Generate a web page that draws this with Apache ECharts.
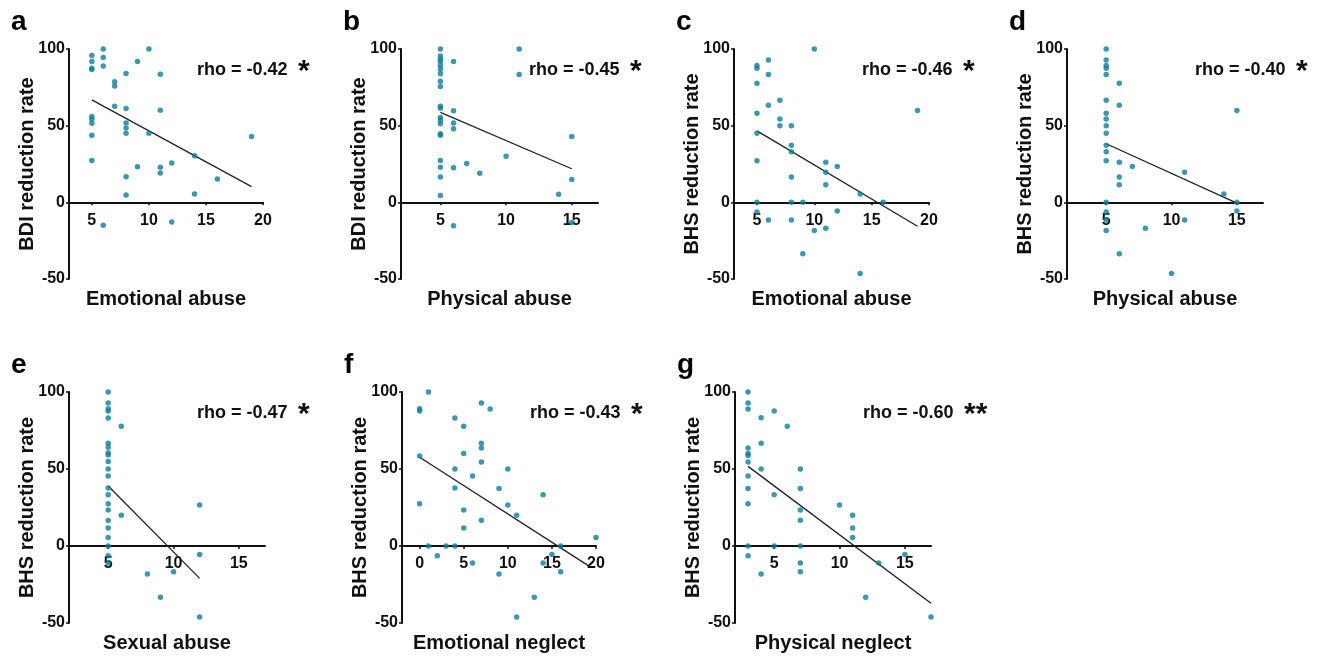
<!DOCTYPE html>
<html>
<head>
<meta charset="utf-8">
<script src="https://cdn.jsdelivr.net/npm/echarts@6/dist/echarts.min.js"></script>
<style>
html,body{margin:0;padding:0;background:#fff;}
#chart{width:1320px;height:657px;}
</style>
</head>
<body>
<div id="chart"></div>
<script>
// ---------------- DATA ----------------
const panelLetters = ['a','b','c','d','e','f','g'];
const yNames = ['BDI reduction rate','BDI reduction rate','BHS reduction rate','BHS reduction rate','BHS reduction rate','BHS reduction rate','BHS reduction rate'];
const xNames = ['Emotional abuse','Physical abuse','Emotional abuse','Physical abuse','Sexual abuse','Emotional neglect','Physical neglect'];
const rhoTexts = ['rho = -0.42','rho = -0.45','rho = -0.46','rho = -0.40','rho = -0.47','rho = -0.43','rho = -0.60'];
const stars = ['*','*','*','*','*','*','**'];
const yRange = [-50, 100];
const yTicks = [-50, 0, 50, 100];
const xRanges = [[3,20],[2,17],[3,20],[2,17],[2,17],[-2,20],[2,17]];
const xTicksA = [5,10,15,20];
const xTicksB = [5,10,15];
const xTicksF = [0,5,10,15,20];

// a: BDI vs Emotional abuse
const aX = [5,5,5,5,5,5,5,5,5, 6,6,6,6, 7,7,7, 8,8,8,8,8,8,8, 9,9, 10,10, 11,11,11,11, 12,12, 14,14, 16, 19];
const aY = [95.7,91.8,87.4,86.6,56,54.2,51.6,43.8,27.3, 100,94.4,88.9,-15, 78.7,75.9,62.7, 84,61.2,51.8,48.4,45.1,16.7,4.8, 91.8,23.2, 100,45.1, 83.5,60.1,22.8,19.1, 25.6,-12.8, 30.4,5.4, 15.2, 42.9];
const aFitX = [5,19];
const aFitY = [66.8,10.2];

// b: BDI vs Physical abuse
const bX = [5,5,5,5,5,5,5,5,5,5,5,5,5,5,5,5,5,5,5,5, 6,6,6,6,6,6, 7, 8, 10, 11,11, 14, 15,15,15];
const bY = [100,95.5,93.3,91.8,89.2,86.8,83.8,79,75.5,62.6,61.3,55.4,53.5,51.3,44.8,43.7,27.3,22.9,16.5,4.5, 91.8,59.7,51.7,48,22.5,-15.2, 25.3, 19, 30.1, 100,83.3, 5.2, 42.9,14.9,-13.2];
const bFitX = [5,15];
const bFitY = [58.7,21.9];

// c: BHS vs Emotional abuse
const cX = [5,5,5,5,5,5,5,5, 6,6,6,6, 7,7,7, 8,8,8,8,8,8, 9,9, 10,10, 11,11,11,11, 12,12, 14,14, 16, 19];
const cY = [89.2,87.4,77.7,58.1,45.1,27.1,0,-6.3, 92.8,83.3,63.3,-11.5, 66.6,54.4,49.9, 49.9,37.3,33,16.5,0,-11.5, 0,-33.6, 100,-18.4, 26.2,19.7,11.5,-16.9, 23.4,-5.6, 5.4,-46.4, 0, 59.9];
const cFitX = [5,19];
const cFitY = [46.6,-15.6];

// d: BHS vs Physical abuse
const dX = [5,5,5,5,5,5,5,5,5,5,5,5,5,5,5,5,5, 6,6,6,6,6,6, 7, 8, 10, 11,11, 14, 15,15,15];
const dY = [100,92.8,89.2,87.4,83.3,66.6,58.1,54.4,49.9,45.1,37.3,33,27.1,0,-6.3,-11.5,-18.4, 77.7,63.3,26.2,16.5,11.5,-33.6, 23.4, -16.9, -46.4, 19.7,-11.5, 5.4, 59.9,0,-5.6];
const dFitX = [5,15];
const dFitY = [38.2,-0.5];

// e: BHS vs Sexual abuse
const eX = [5,5,5,5,5,5,5,5,5,5,5,5,5,5,5,5,5,5,5,5,5,5, 6,6, 8, 9, 10, 12,12,12];
const eY = [100,92.9,89.2,87.7,83.1,66.7,64.1,60.6,59.1,54.8,50,45.5,37.7,33.3,27.5,23.4,16.5,11.7,5.6,0,-6.3,-11, 77.7,19.9, -18.2, -33.3, -16.7, 26.6,-5.6,-46.1];
const eFitX = [5,12];
const eFitY = [39,-21];

// f: BHS vs Emotional neglect
const fX = [0,0,0,0, 1,1, 2, 3, 4,4,4,4, 5,5,5,5, 6,6, 7,7,7,7,7, 8, 9,9, 10,10, 11,11, 13, 14,14, 15, 16,16, 20];
const fY = [89.2,87.7,58.4,27.5, 100,0, -6.3, 0, 83.1,50,37.7,0, 77.7,60,23.4,11.7, 45.5,-11, 92.9,66.7,63.6,54.5,16.7, 89, 37.4,-18.2, 50,26.6, 19.9,-46.1, -33.3, 33.3,-11, -5.6, 0,-16.7, 5.6];
const fFitX = [0,19.3];
const fFitY = [57.6,-13.4];

// g: BHS vs Physical neglect
const gX = [3,3,3,3,3,3,3,3,3,3,3,3, 4,4,4,4, 5,5,5, 6, 7,7,7,7,7,7,7, 10, 11,11,11, 12, 13, 15, 17];
const gY = [100,92.9,89,63.6,60,58.7,54.5,45.5,37.4,27.5,0,-6.3, 83.3,66.7,50,-18.2, 87.7,33.3,0, 77.7, 50,37.4,23.4,16.7,0,-11,-16.7, 26.6, 19.9,11.7,5.6, -33.3, -11, -5.6, -46.1];
const gFitX = [3,17];
const gFitY = [51.7,-37.2];

// ---------------- LAYOUT ----------------
const FONT = 'Arial, "Liberation Sans", Helvetica, sans-serif';
const DOT = '#0e7e98';
const gridBoxes = [
  {left:69,  top:49,  width:194, height:230},
  {left:401, top:49,  width:197, height:230},
  {left:734, top:49,  width:195, height:230},
  {left:1067,top:49,  width:196, height:230},
  {left:69,  top:392, width:196, height:231},
  {left:402, top:392, width:194, height:231},
  {left:735, top:392, width:196, height:231}
];
const xTickSets = [xTicksA, xTicksB, xTicksA, xTicksB, xTicksB, xTicksF, xTicksB];
const pts = [[aX,aY],[bX,bY],[cX,cY],[dX,dY],[eX,eY],[fX,fY],[gX,gY]];
const fits = [[aFitX,aFitY],[bFitX,bFitY],[cFitX,cFitY],[dFitX,dFitY],[eFitX,eFitY],[fFitX,fFitY],[gFitX,gFitY]];

const zip = (xs, ys) => xs.map((x, i) => [x, ys[i]]);

const grids = [], xAxes = [], yAxes = [], series = [], graphics = [];
gridBoxes.forEach((g, i) => {
  grids.push(Object.assign({outerBoundsMode:'none', containLabel:false}, g));
  // x axis crosses the y axis at value 0: shift it up from the grid bottom by the pixel distance of 0 from the y minimum
  const zeroOffset = -g.height * (0 - yRange[0]) / (yRange[1] - yRange[0]);
  xAxes.push({
    type:'value', gridIndex:i, min:xRanges[i][0], max:xRanges[i][1],
    position:'bottom', offset: zeroOffset,
    name: xNames[i], nameLocation:'middle', nameGap: 87,
    nameTextStyle:{fontFamily:FONT, fontWeight:'bold', fontSize:20, color:'#111'},
    axisLine:{show:true, onZero:false, lineStyle:{color:'#111', width:2}},
    axisTick:{show:true, length:3, lineStyle:{color:'#111', width:1.5}, customValues: xTickSets[i]},
    axisLabel:{fontFamily:FONT, fontWeight:'bold', fontSize:16, color:'#111', margin:10, customValues: xTickSets[i]},
    splitLine:{show:false}
  });
  yAxes.push({
    type:'value', gridIndex:i, min:yRange[0], max:yRange[1], interval:50,
    name: yNames[i], nameLocation:'middle', nameGap: 32, nameRotate: 90, nameMoveOverlap: false,
    nameTextStyle:{fontFamily:FONT, fontWeight:'bold', fontSize:20, color:'#111'},
    axisLine:{show:true, onZero:false, lineStyle:{color:'#111', width:2}},
    axisTick:{show:true, length:3, lineStyle:{color:'#111', width:1.5}, customValues: yTicks},
    axisLabel:{fontFamily:FONT, fontWeight:'bold', fontSize:16, color:'#111', margin:4, customValues: yTicks},
    splitLine:{show:false}
  });
  series.push({
    type:'scatter', xAxisIndex:i, yAxisIndex:i, symbolSize:5.5,
    itemStyle:{color:DOT}, data: zip(pts[i][0], pts[i][1]), silent:true, z:3
  });
  series.push({
    type:'line', xAxisIndex:i, yAxisIndex:i, showSymbol:false, symbol:'none',
    lineStyle:{color:'#222', width:1.3}, data: zip(fits[i][0], fits[i][1]), silent:true, z:2
  });
  // panel letter
  graphics.push({
    type:'text', left: g.left - 58, top: g.top - 41,
    style:{text: panelLetters[i], font:'bold 28px ' + FONT, fill:'#000'}
  });
  // rho text
  const rhoX = g.left + 128, rhoY = g.top + 21;
  graphics.push({
    type:'text', x: rhoX, y: rhoY,
    style:{text: rhoTexts[i], font:'bold 18px ' + FONT, fill:'#111', verticalAlign:'middle', align:'left'}
  });
  graphics.push({
    type:'text', x: rhoX + 101, y: rhoY + 2,
    style:{text: stars[i], font:'bold 30px ' + FONT, fill:'#111', verticalAlign:'middle', align:'left'}
  });
});

const chart = echarts.init(document.getElementById('chart'), null, {renderer:'canvas'});
chart.setOption({
  animation:false,
  backgroundColor:'#fff',
  grid: grids, xAxis: xAxes, yAxis: yAxes, series: series,
  graphic: graphics
});
</script>
</body>
</html>
